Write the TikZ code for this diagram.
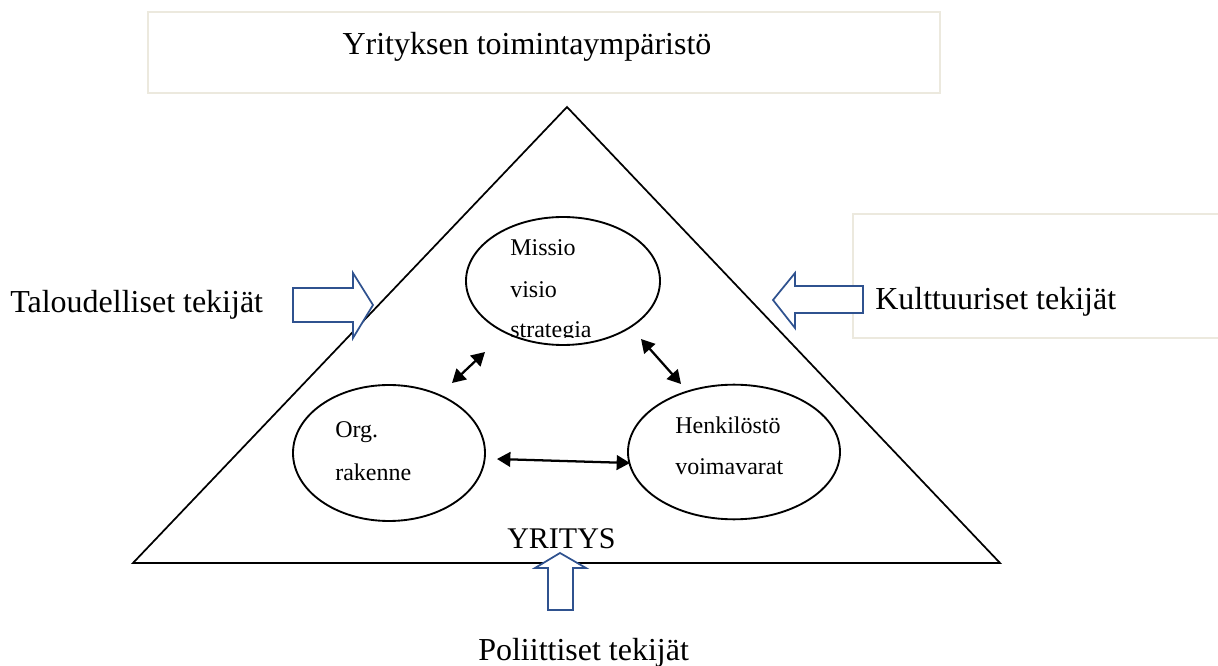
\documentclass[tikz,border=0pt]{standalone}
\usepackage{fontspec}
\setmainfont{Liberation Serif}
\usetikzlibrary{arrows.meta,shapes.geometric}
\definecolor{boxline}{RGB}{236,233,222}
\definecolor{arrblue}{RGB}{47,82,143}
\tikzset{
  bigtxt/.style={inner sep=0pt, anchor=base west, font=\fontsize{24}{28}\selectfont},
  elltxt/.style={inner sep=0pt, anchor=base west, font=\fontsize{18}{22}\selectfont},
  ell/.style={draw, ellipse, line width=1.4pt, inner sep=0pt},
  dbl/.style={{Triangle[length=10pt,width=11pt]}-{Triangle[length=10pt,width=11pt]}, line width=1.7pt},
  blockarr/.style={draw=arrblue, fill=white, line width=1.3pt, line join=miter},
  envbox/.style={draw=boxline, line width=1.3pt},
}
\begin{document}
\begin{tikzpicture}[x=0.75pt,y=-0.75pt]
\useasboundingbox (0,0) rectangle (1218,666);
\begin{scope}
\clip (0,0) rectangle (1218,666);
% environment boxes
\draw[envbox] (148,12) rectangle (940,93);
\draw[envbox] (853,214) rectangle (1240,338);
\end{scope}
\node[inner sep=0pt, anchor=base, font=\fontsize{24}{28}\selectfont] (env) at (527,55) {Yrityksen toimintaympäristö};
% triangle
\draw[line width=1.3pt, line join=miter] (567,107) -- (1000,563) -- (133,563) -- cycle;
% ellipses
\node[ell, minimum width=145.5pt, minimum height=96pt] (mis) at (563,281) {};
\node[ell, minimum width=144pt, minimum height=102pt] (org) at (389,453) {};
\node[ell, minimum width=159pt, minimum height=101pt] (hen) at (734,452) {};
% ellipse texts
\node[elltxt] (t1) at (510,256) {Missio};
\node[elltxt] (t2) at (510,298) {visio};
\begin{scope}
\clip (0,0) rectangle (1218,338);
\node[elltxt] (t3) at (510,338) {strategia};
\end{scope}
\node[elltxt] (t4) at (335,438) {Org.};
\node[elltxt] (t5) at (335,481) {rakenne};
\node[elltxt] (t6) at (675,434) {Henkilöstö};
\node[elltxt] (t7) at (675,475) {voimavarat};
\node[inner sep=0pt, anchor=base west, font=\fontsize{22.5}{26}\selectfont] (yr) at (507,548) {YRITYS};
% double arrows
\coordinate (a1) at (452,383); \coordinate (a2) at (485,352);
\coordinate (b1) at (641,339); \coordinate (b2) at (681,384);
\coordinate (c1) at (497,459); \coordinate (c2) at (630,463);
\draw[dbl] (a1) -- (a2);
\draw[dbl] (b1) -- (b2);
\draw[dbl] (c1) -- (c2);
% outer labels
\node[bigtxt] (tal) at (10,313) {Taloudelliset tekijät};
\node[bigtxt] (kul) at (875,310) {Kulttuuriset tekijät};
\node[bigtxt] (pol) at (478,660) {Poliittiset tekijät};
% block arrows
\draw[blockarr] (293,288) -- (353,288) -- (353,273) -- (373,305) -- (353,338) -- (353,322) -- (293,322) -- cycle;
\draw[blockarr] (863,286) -- (795,286) -- (795,273) -- (773,300) -- (795,328) -- (795,313) -- (863,313) -- cycle;
\draw[blockarr] (548,610) -- (548,568) -- (535,568) -- (560,553) -- (586,568) -- (573,568) -- (573,610) -- cycle;
\end{tikzpicture}
\end{document}
